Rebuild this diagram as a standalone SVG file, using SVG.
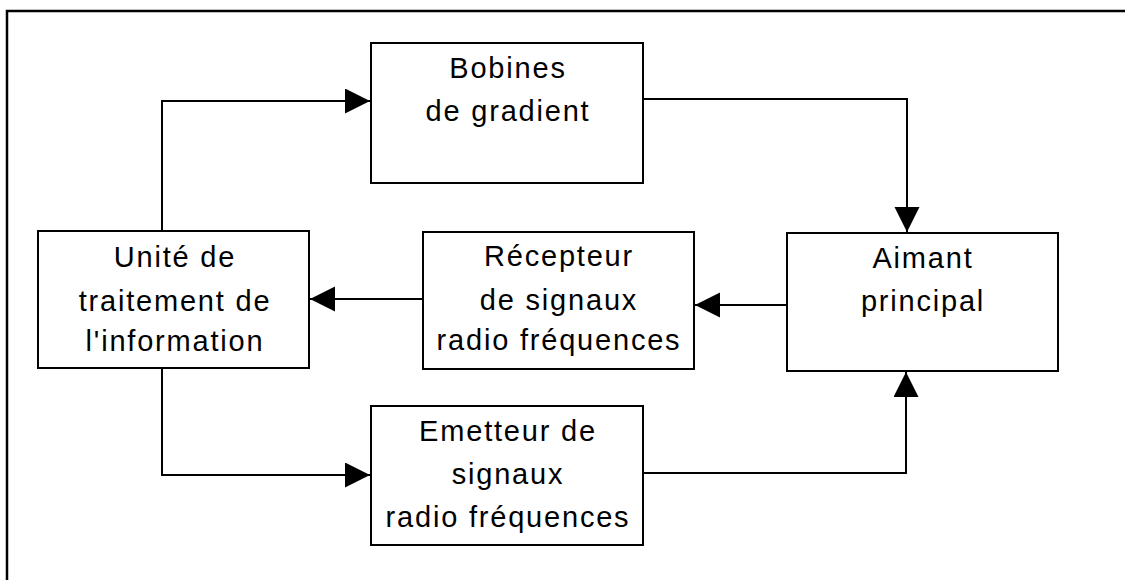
<svg xmlns="http://www.w3.org/2000/svg" width="1125" height="580" viewBox="0 0 1125 580">
<style>
.box{fill:#fff;stroke:#000;stroke-width:2}
.lbl{font-family:"Liberation Sans",Arial,sans-serif;font-size:29px;letter-spacing:1.8px;fill:#000;text-anchor:middle}
.conn{fill:none;stroke:#000;stroke-width:2}
</style>
<defs>
<marker id="arr" markerUnits="userSpaceOnUse" markerWidth="26" markerHeight="26" refX="25" refY="12.5" orient="auto">
<path d="M0,0 L25,12.5 L0,25 z" fill="#000"/>
</marker>
</defs>
<rect width="1125" height="580" fill="#fff"/>
<path d="M7,580 V11 H1125" fill="none" stroke="#000" stroke-width="2.5"/>
<g id="connectors">
<path class="conn" d="M162,231 V101 H370" marker-end="url(#arr)"/>
<path class="conn" d="M643,99 H907 V232" marker-end="url(#arr)"/>
<path class="conn" d="M787,305 H695" marker-end="url(#arr)"/>
<path class="conn" d="M423,299 H310" marker-end="url(#arr)"/>
<path class="conn" d="M162,368 V475 H370" marker-end="url(#arr)"/>
<path class="conn" d="M643,473 H906 V372" marker-end="url(#arr)"/>
</g>
<g id="bobines">
<rect class="box" x="371" y="43" width="272" height="140"/>
<text class="lbl" x="508" y="78">Bobines</text>
<text class="lbl" x="508" y="121">de gradient</text>
</g>
<g id="aimant">
<rect class="box" x="787" y="233" width="271" height="138"/>
<text class="lbl" x="923" y="268">Aimant</text>
<text class="lbl" x="923" y="311">principal</text>
</g>
<g id="recepteur">
<rect class="box" x="423" y="232" width="271" height="137"/>
<text class="lbl" x="559" y="266">Récepteur</text>
<text class="lbl" x="559" y="310">de signaux</text>
<text class="lbl" x="559" y="350">radio fréquences</text>
</g>
<g id="unite">
<rect class="box" x="38" y="231" width="271" height="137"/>
<text class="lbl" x="175" y="267">Unité de</text>
<text class="lbl" x="175" y="311">traitement de</text>
<text class="lbl" x="175" y="351">l'information</text>
</g>
<g id="emetteur">
<rect class="box" x="371" y="406" width="272" height="139"/>
<text class="lbl" x="508" y="441">Emetteur de</text>
<text class="lbl" x="508" y="484">signaux</text>
<text class="lbl" x="508" y="527">radio fréquences</text>
</g>
</svg>
